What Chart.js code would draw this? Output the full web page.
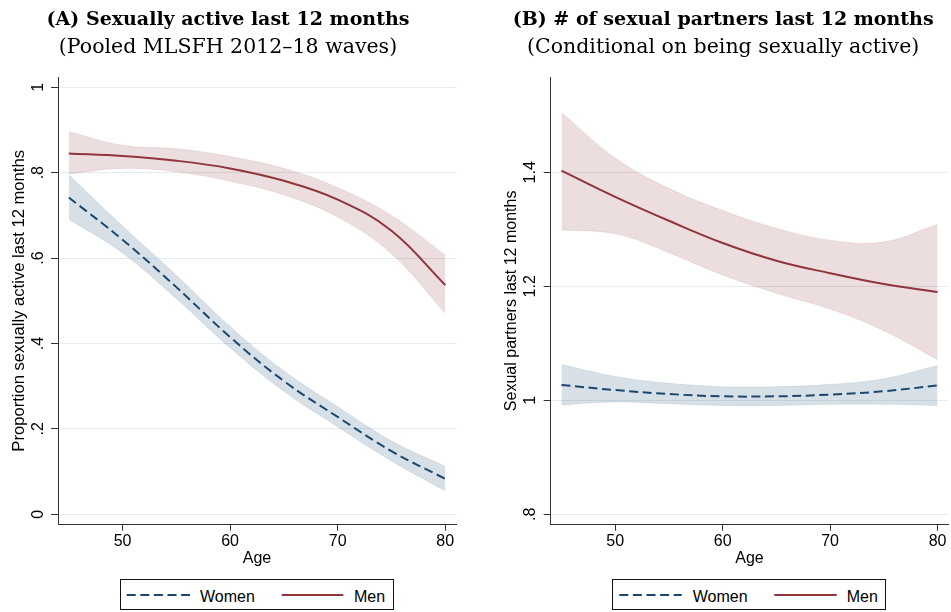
<!DOCTYPE html>
<html>
<head>
<meta charset="utf-8">
<script src="https://cdn.jsdelivr.net/npm/chart.js@4.4.1/dist/chart.umd.min.js"></script>
<style>
  html, body { margin: 0; padding: 0; background: #fff; }
  body { width: 951px; height: 612px; position: relative; overflow: hidden; }
  canvas { position: absolute; top: 0; }
  #panelA { left: 0; }
  #panelB { left: 498px; }
  .legend { position: absolute; top: 579px; }
</style>
</head>
<body>
<canvas id="panelA" width="465" height="575"></canvas>
<canvas id="panelB" width="453" height="575"></canvas>

<svg class="legend" style="left:120px" width="274" height="32">
  <rect x="0.5" y="0.5" width="273" height="30" fill="#fff" stroke="#111" stroke-width="1"/>
  <line x1="6.7" y1="16" x2="70" y2="16" stroke="#1a476f" stroke-width="2" stroke-dasharray="9 4.6"/>
  <text x="80" y="22.7" font-family="Liberation Sans, Arial, sans-serif" font-size="16" fill="#000">Women</text>
  <line x1="161.7" y1="16" x2="223.3" y2="16" stroke="#90353b" stroke-width="2"/>
  <text x="234" y="22.7" font-family="Liberation Sans, Arial, sans-serif" font-size="16" fill="#000">Men</text>
</svg>
<svg class="legend" style="left:612px" width="274" height="32">
  <rect x="0.5" y="0.5" width="273" height="30" fill="#fff" stroke="#111" stroke-width="1"/>
  <line x1="7.3" y1="16" x2="69.7" y2="16" stroke="#1a476f" stroke-width="2" stroke-dasharray="9 4.6"/>
  <text x="80.7" y="22.7" font-family="Liberation Sans, Arial, sans-serif" font-size="16" fill="#000">Women</text>
  <line x1="162.3" y1="16" x2="224.7" y2="16" stroke="#90353b" stroke-width="2"/>
  <text x="234.7" y="22.7" font-family="Liberation Sans, Arial, sans-serif" font-size="16" fill="#000">Men</text>
</svg>

<script>
// Predicted values by age, with 95% confidence bounds
const ages = [45, 50, 55, 60, 65, 70, 75, 80];
const ageTicks = [50, 60, 70, 80];

// (A) Proportion sexually active in the last 12 months
const activeWomen   = [0.742, 0.643, 0.532, 0.415, 0.312, 0.228, 0.148, 0.083];
const activeWomenHi = [0.795, 0.675, 0.560, 0.440, 0.336, 0.252, 0.172, 0.112];
const activeWomenLo = [0.691, 0.612, 0.505, 0.390, 0.288, 0.205, 0.125, 0.055];
const activeMen     = [0.845, 0.839, 0.828, 0.810, 0.781, 0.737, 0.664, 0.537];
const activeMenHi   = [0.896, 0.864, 0.856, 0.838, 0.810, 0.765, 0.700, 0.607];
const activeMenLo   = [0.797, 0.810, 0.802, 0.780, 0.748, 0.696, 0.610, 0.471];
const activeTicks      = [0, 0.2, 0.4, 0.6, 0.8, 1];
const activeTickLabels = ['0', '.2', '.4', '.6', '.8', '1'];

// (B) Number of sexual partners in the last 12 months
const partnersWomen   = [1.027, 1.018, 1.011, 1.007, 1.007, 1.010, 1.016, 1.026];
const partnersWomenHi = [1.063, 1.042, 1.030, 1.024, 1.024, 1.028, 1.038, 1.061];
const partnersWomenLo = [0.992, 0.997, 0.994, 0.991, 0.991, 0.993, 0.993, 0.991];
const partnersMen     = [1.403, 1.357, 1.315, 1.276, 1.245, 1.223, 1.204, 1.190];
const partnersMenHi   = [1.505, 1.425, 1.372, 1.333, 1.302, 1.281, 1.278, 1.309];
const partnersMenLo   = [1.299, 1.292, 1.259, 1.220, 1.188, 1.160, 1.122, 1.071];
const partnersTicks      = [0.8, 1, 1.2, 1.4];
const partnersTickLabels = ['.8', '1', '1.2', '1.4'];

const NAVY = '26,71,111';
const MAROON = '144,53,59';
const SANS = 'Liberation Sans, Arial, sans-serif';
const SERIF = 'DejaVu Serif, serif';
const AXIS = '#333';
const GRID = '#e4ecee';

const pts = ys => ages.map((a, i) => ({ x: a, y: ys[i] }));

function lineSet(label, ys, rgb, dash) {
  return {
    label, data: pts(ys), borderColor: `rgb(${rgb})`, borderWidth: 2,
    borderDash: dash, pointRadius: 0, fill: false, order: 0, tension: 0.4
  };
}
function bandSet(ys, rgb, fillNext) {
  return {
    data: pts(ys), borderColor: `rgba(${rgb},0.10)`, backgroundColor: `rgba(${rgb},0.17)`,
    borderWidth: 1, pointRadius: 0, fill: fillNext ? '+1' : false, order: 1, tension: 0.4
  };
}

function drawPanel(id, p) {
  new Chart(document.getElementById(id), {
    type: 'line',
    data: {
      datasets: [
        lineSet('Women', p.women, NAVY, [9, 4.6]),
        lineSet('Men', p.men, MAROON, []),
        bandSet(p.womenHi, NAVY, true),
        bandSet(p.womenLo, NAVY, false),
        bandSet(p.menHi, MAROON, true),
        bandSet(p.menLo, MAROON, false)
      ]
    },
    options: {
      responsive: false,
      animation: false,
      layout: { padding: { left: 0, right: p.rightPad, top: 0, bottom: 0 } },
      plugins: {
        legend: { display: false },
        tooltip: { enabled: false },
        title: {
          display: true, text: p.title, color: '#000',
          font: { family: SERIF, size: 19, weight: 'bold', lineHeight: 1.2 },
          padding: { top: 8.3, bottom: 0 }
        },
        subtitle: {
          display: true, text: p.subtitle, color: '#000',
          font: { family: SERIF, size: 20.5, weight: 'normal', lineHeight: 1.2 },
          padding: { top: 4.1, bottom: 17.2 }
        }
      },
      scales: {
        x: {
          type: 'linear', min: 44, max: 81,
          afterBuildTicks: s => { s.ticks = ageTicks.map(v => ({ value: v })); },
          afterFit: s => { s.height = 50.3; },
          grid: { drawOnChartArea: false, drawTicks: true, tickLength: 6, tickColor: AXIS, tickWidth: 1 },
          border: { display: true, color: AXIS, width: 1 },
          ticks: { color: '#000', font: { family: SANS, size: 16 }, padding: 1.5, maxRotation: 0, autoSkip: false },
          title: { display: true, text: 'Age', color: '#000', font: { family: SANS, size: 16 }, padding: { top: 0, bottom: 6.7 } }
        },
        y: {
          type: 'linear', min: p.yMin, max: p.yMax,
          afterBuildTicks: s => { s.ticks = p.ticks.map(v => ({ value: v })); },
          afterFit: s => { s.width = p.yWidth; },
          grid: { color: GRID, lineWidth: 1, drawTicks: true, tickLength: 7, tickColor: AXIS, tickWidth: 1 },
          border: { display: true, color: AXIS, width: 1 },
          ticks: {
            callback: (v, i) => p.tickLabels[i],
            minRotation: 90, maxRotation: 90, crossAlign: 'center',
            padding: p.tickPad, color: '#000', font: { family: SANS, size: 16 }, autoSkip: false
          },
          title: {
            display: true, text: p.yTitle, color: '#000',
            font: { family: SANS, size: p.yTitleSize }, padding: { top: p.yTitlePad, bottom: 0 }
          }
        }
      }
    }
  });
}

drawPanel('panelA', {
  title: '(A) Sexually active last 12 months',
  subtitle: '(Pooled MLSFH 2012\u201318 waves)',
  yTitle: 'Proportion sexually active last 12 months',
  women: activeWomen, womenHi: activeWomenHi, womenLo: activeWomenLo,
  men: activeMen, menHi: activeMenHi, menLo: activeMenLo,
  ticks: activeTicks, tickLabels: activeTickLabels,
  yMin: -0.0244, yMax: 1.0241,
  yWidth: 58, rightPad: 9, tickPad: 5.8, yTitleSize: 16.6, yTitlePad: 9.4
});

drawPanel('panelB', {
  title: '(B) # of sexual partners last 12 months',
  subtitle: '(Conditional on being sexually active)',
  yTitle: 'Sexual partners last 12 months',
  women: partnersWomen, womenHi: partnersWomenHi, womenLo: partnersWomenLo,
  men: partnersMen, menHi: partnersMenHi, menLo: partnersMenLo,
  ticks: partnersTicks, tickLabels: partnersTickLabels,
  yMin: 0.7818, yMax: 1.5672,
  yWidth: 52.7, rightPad: 2.7, tickPad: 1.6, yTitleSize: 16, yTitlePad: 4.1
});
</script>
</body>
</html>
